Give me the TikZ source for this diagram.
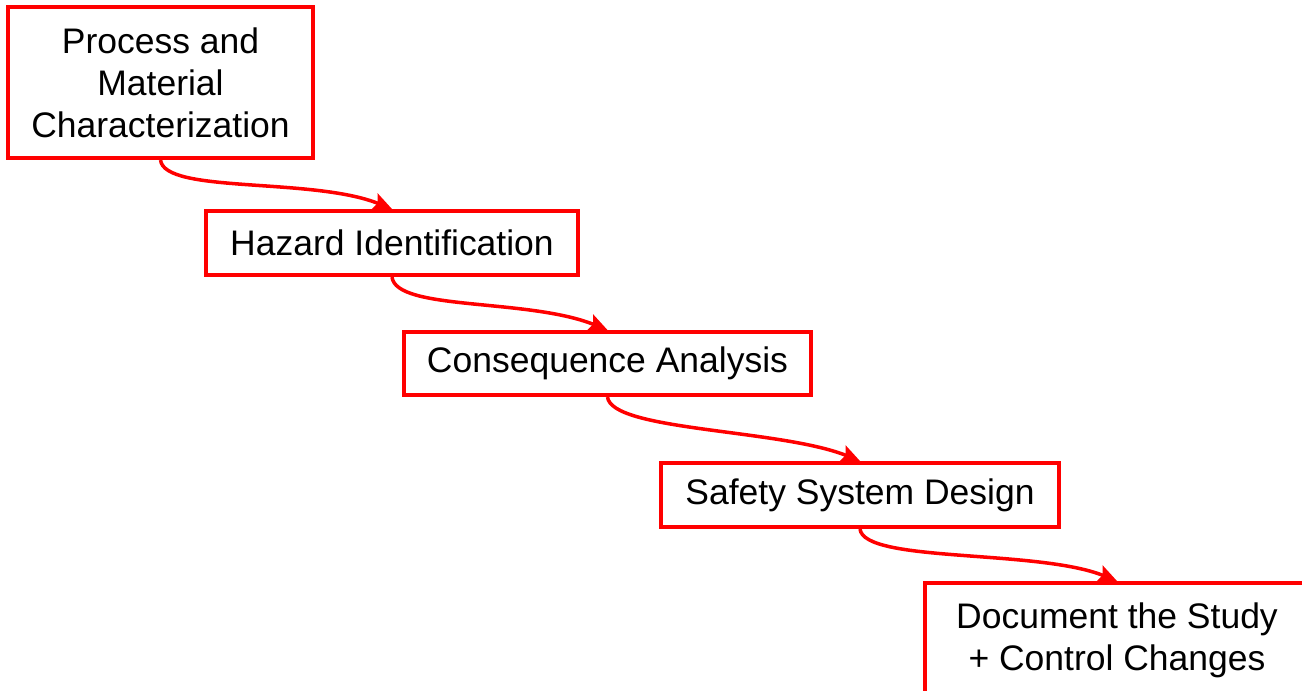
\documentclass[tikz,border=0pt]{standalone}
\usepackage{fontspec}
\setmainfont{Liberation Sans}
\usepackage{xcolor}
\usepackage{tikz}
\usetikzlibrary{arrows.meta}
\definecolor{cred}{HTML}{FF0000}
\tikzset{
  stage/.style={draw=cred,line width=2.3pt,fill=white,align=center,inner sep=0pt,
    font=\fontsize{20.2pt}{23.8pt}\selectfont},
  flow/.style={draw=cred,line width=2pt,-{Stealth[length=0.38cm,width=0.36cm,inset=0.07cm]}}
}

\begin{document}
\begin{tikzpicture}[x=0.02cm,y=-0.02cm]
\useasboundingbox (0,0) rectangle (1302,690);

% ===== the five stages, stepping down to the right =====
\node[stage,minimum width=6.1cm,minimum height=3.02cm] (pmc) at (160.5,82.5)
  {Process and\\Material\\Characterization};
\node[stage,minimum width=7.44cm,minimum height=1.28cm] (hazid) at (392,243)
  {Hazard Identification};
\node[stage,minimum width=8.14cm,minimum height=1.26cm] (conseq) at (607.5,363.5)
  {Consequence Analysis};
\node[stage,minimum width=7.96cm,minimum height=1.28cm] (safety) at (860,495)
  {Safety System Design};
\node[stage,minimum width=7.68cm,minimum height=2.28cm] (docu) at (1117,640)
  {Document the Study\\+ Control Changes};

% ===== links =====
\foreach \a/\b in {pmc/hazid,hazid/conseq,conseq/safety,safety/docu}
  \draw[flow] (\a.south) .. controls +(4,34) and +(-80,-32) .. (\b.north);

\end{tikzpicture}
\end{document}
